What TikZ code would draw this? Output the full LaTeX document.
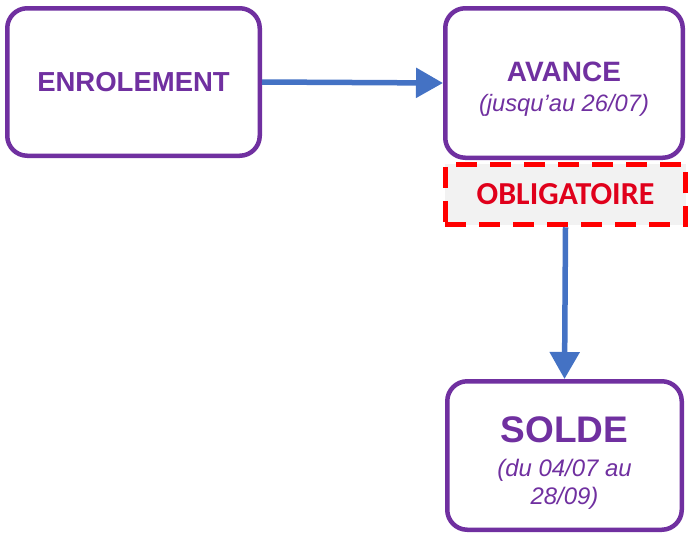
\documentclass[tikz,border=0pt]{standalone}
\usepackage{fontspec}
\setmainfont{Liberation Sans}
\newfontfamily\calib{Carlito}
\usetikzlibrary{arrows.meta}
\definecolor{ppl}{HTML}{7030A0}
\definecolor{arrblue}{HTML}{4472C4}
\definecolor{obred}{RGB}{224,0,27}
\definecolor{obfill}{HTML}{F2F2F2}
\begin{document}
\begin{tikzpicture}[x=1pt,y=-1pt,
  stagebox/.style={draw=ppl, line width=4.5pt, rounded corners=20pt, fill=white,
    text=ppl, align=center, inner sep=0pt},
  flowarrow/.style={draw=arrblue, line width=5.5pt,
    -{Triangle[length=27pt,width=29pt]}},
  warnbox/.style={draw=red, fill=obfill, line width=5pt, dash pattern=on 21pt off 13pt,
    text=obred, inner sep=0pt, font=\calib\bfseries\fontsize{32}{36}\selectfont}
]
\useasboundingbox (0,0) rectangle (692,533);
\node[stagebox, minimum width=252.5pt, minimum height=147.5pt,
  font=\bfseries\fontsize{27.5}{30}\selectfont] (enrol) at (133.5,82) {ENROLEMENT};
\node[stagebox, minimum width=237.5pt, minimum height=149.5pt,
  font=\fontsize{23.7}{29.5}\selectfont] (avance) at (564,83)
  {{\bfseries\fontsize{28}{30}\selectfont\rule{0pt}{32pt}AVANCE}\\{\itshape (jusqu’au 26/07)}};
\node[warnbox, minimum width=240.5pt, minimum height=60.5pt] (oblig) at (565.5,194.5) {OBLIGATOIRE};
\node[stagebox, minimum width=234.5pt, minimum height=148.5pt,
  font=\fontsize{23.9}{28}\selectfont] (solde) at (564.5,455.5)
  {{\bfseries\fontsize{37}{40}\selectfont\rule{0pt}{40pt}SOLDE}\\[6pt]{\itshape (du 04/07 au}\\{\itshape 28/09)}};
\draw[flowarrow] (enrol.east) -- (avance.west);
\draw[flowarrow] (oblig.south) -- (solde.north);
\end{tikzpicture}
\end{document}
